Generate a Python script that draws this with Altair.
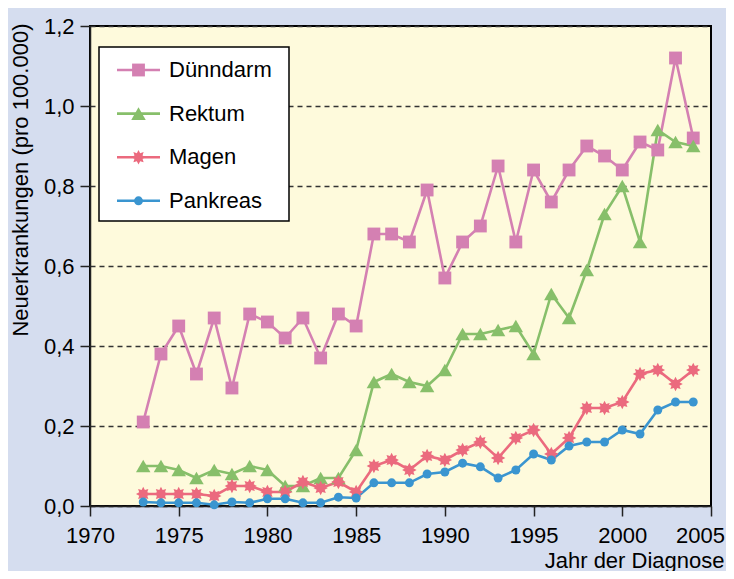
import math
import altair as alt
import pandas as pd

# ---------------- data ----------------
years = list(range(1973, 2005))
series_names = ["Dünndarm", "Rektum", "Magen", "Pankreas"]

duenndarm = [0.21, 0.38, 0.45, 0.33, 0.47, 0.295, 0.48, 0.46, 0.42, 0.47, 0.37, 0.48,
             0.45, 0.68, 0.68, 0.66, 0.79, 0.57, 0.66, 0.70, 0.85, 0.66, 0.84, 0.76,
             0.84, 0.90, 0.875, 0.84, 0.91, 0.89, 1.12, 0.92]
rektum = [0.10, 0.10, 0.09, 0.07, 0.09, 0.08, 0.10, 0.09, 0.05, 0.05, 0.07, 0.07,
          0.14, 0.31, 0.33, 0.31, 0.30, 0.34, 0.43, 0.43, 0.44, 0.45, 0.38, 0.53,
          0.47, 0.59, 0.73, 0.80, 0.66, 0.94, 0.91, 0.90]
magen = [0.03, 0.03, 0.03, 0.03, 0.025, 0.05, 0.05, 0.035, 0.035, 0.06, 0.045, 0.06,
         0.035, 0.10, 0.115, 0.09, 0.125, 0.115, 0.14, 0.16, 0.12, 0.17, 0.19, 0.13,
         0.17, 0.245, 0.245, 0.26, 0.33, 0.34, 0.305, 0.34]
pankreas = [0.01, 0.008, 0.008, 0.008, 0.003, 0.01, 0.008, 0.018, 0.018, 0.008, 0.008, 0.022,
            0.02, 0.058, 0.058, 0.058, 0.08, 0.085, 0.107, 0.098, 0.07, 0.09, 0.13, 0.115,
            0.15, 0.16, 0.16, 0.19, 0.18, 0.24, 0.26, 0.26]

x_ticks = [1970, 1975, 1980, 1985, 1990, 1995, 2000, 2005]
y_ticks = [0.0, 0.2, 0.4, 0.6, 0.8, 1.0, 1.2]

# ---------------- style ----------------
FONT = "Liberation Sans"
colors = ["#d480b2", "#87bf6a", "#eb6a7e", "#3a95d0"]


def star_path(n=8, r_out=1.0, r_in=0.6):
    pts = []
    for k in range(2 * n):
        r = r_out if k % 2 == 0 else r_in
        a = math.pi * k / n - math.pi / 2
        pts.append(f"{r * math.cos(a):.3f},{r * math.sin(a):.3f}")
    return "M" + "L".join(pts) + "Z"


shapes = ["square", "triangle-up", star_path(), "circle"]
sizes = [165, 210, 210, 80]

series_values = [duenndarm, rektum, magen, pankreas]
rows = []
for name, vals in zip(series_names, series_values):
    for yr, v in zip(years, vals):
        rows.append({"Jahr": yr, "Serie": name, "Wert": v})
df = pd.DataFrame(rows)

color_scale = alt.Scale(domain=series_names, range=colors)
color_enc = alt.Color("Serie:N", scale=color_scale, legend=None)

x_enc = alt.X(
    "Jahr:Q",
    scale=alt.Scale(domain=[1970, 2005], nice=False, zero=False),
    axis=alt.Axis(
        values=x_ticks, format="d", title="Jahr der Diagnose", grid=False,
        labelFlush=False, labelOverlap=False,
        labelOffset=alt.ExprRef("datum.value == 2005 ? -11 : 0"),
        tickSize=10, tickWidth=1.5, tickColor="#222", domainColor="#222", domainWidth=1.5,
        labelPadding=9, labelFontSize=22, labelColor="black", labelFont=FONT,
        titleFontSize=22, titleFontWeight="normal", titleColor="black", titleFont=FONT,
        titleAlign="right", titleBaseline="alphabetic", titleX=634, titleY=61,
    ),
)
y_enc = alt.Y(
    "Wert:Q",
    scale=alt.Scale(domain=[0, 1.2], nice=False),
    axis=alt.Axis(
        values=y_ticks, labelExpr="replace(format(datum.value, '.1f'), '.', ',')",
        title="Neuerkrankungen (pro 100.000)", grid=True, gridDash=[5, 4],
        gridColor="#333", gridWidth=1.4, labelFlush=False, labelOverlap=False,
        tickSize=10, tickWidth=1.5, tickColor="#222", domainColor="#222", domainWidth=1.5,
        labelPadding=6, labelFontSize=22, labelColor="black", labelFont=FONT,
        titleFontSize=22, titleFontWeight="normal", titleColor="black", titleFont=FONT,
        titleAngle=-90, titleAlign="right", titleBaseline="alphabetic", titleX=-63, titleY=-3,
    ),
)

base = alt.Chart(df)
lines = base.mark_line(strokeWidth=2.6).encode(x=x_enc, y=y_enc, color=color_enc)

point_layers = []
for name, shp, sz in zip(series_names, shapes, sizes):
    point_layers.append(
        base.transform_filter(alt.datum.Serie == name)
        .mark_point(filled=True, opacity=1, shape=shp, size=sz)
        .encode(x=x_enc, y=y_enc, color=color_enc)
    )

# ---------------- legend (drawn manually) ----------------
LEG_Y0, LEG_DY = 44, 43.6
legend_df = pd.DataFrame({"Serie": series_names})
legend_df["ly"] = [LEG_Y0 + i * LEG_DY for i in range(len(series_names))]
ly = alt.Y("ly:Q", scale=None, axis=None)

box = alt.Chart(pd.DataFrame({"box": [0]})).mark_rect(
    fill="white", stroke="black", strokeWidth=1.5
).encode(x=alt.value(9), x2=alt.value(199), y=alt.value(21), y2=alt.value(195))

leg_base = alt.Chart(legend_df)
leg_lines = leg_base.mark_rule(strokeWidth=2.6).encode(
    x=alt.value(27), x2=alt.value(70), y=ly, color=color_enc,
)
leg_point_layers = []
for name, shp, sz in zip(series_names, shapes, sizes):
    leg_point_layers.append(
        leg_base.transform_filter(alt.datum.Serie == name)
        .mark_point(filled=True, opacity=1, shape=shp, size=sz)
        .encode(x=alt.value(48.5), y=ly, color=color_enc)
    )
leg_text = leg_base.mark_text(
    align="left", baseline="middle", fontSize=22, font=FONT, color="black"
).encode(x=alt.value(79), y=ly, text="Serie:N")

chart = (
    alt.layer(lines, *point_layers, box, leg_lines, *leg_point_layers, leg_text)
    .properties(
        width=621, height=480,
        padding={"left": 82, "top": 18, "right": 15, "bottom": 65},
        autosize=alt.AutoSizeParams(type="none"),
        background="#d5ddef",
    )
    .configure(font=FONT)
    .configure_view(fill="#fefadc", stroke="black", strokeWidth=2)
)

chart.save("out.html", embed_options={"renderer": "svg", "actions": False})
